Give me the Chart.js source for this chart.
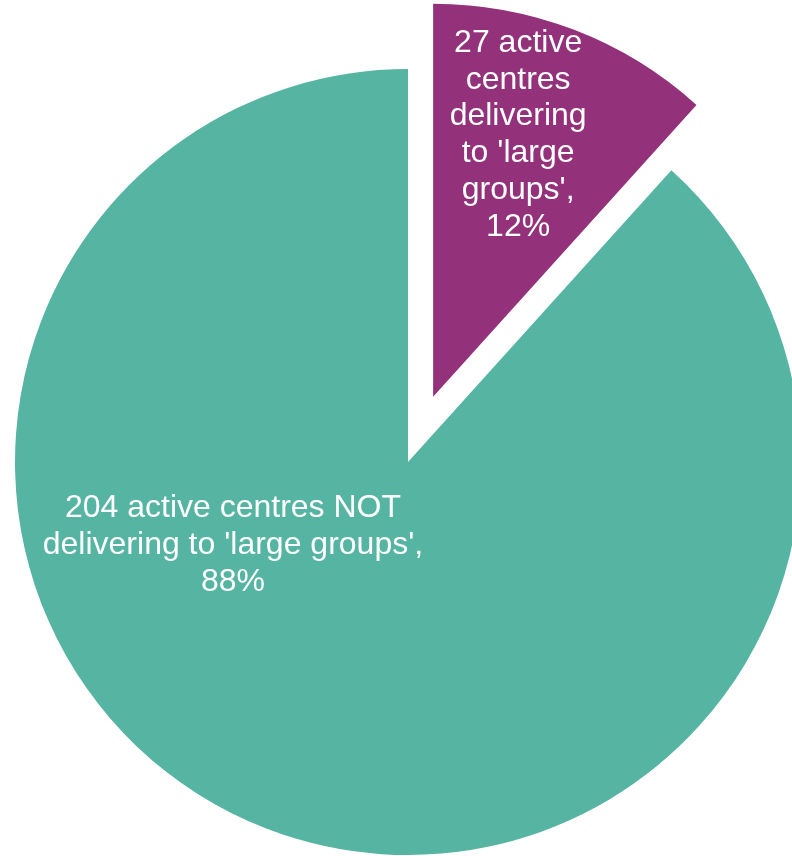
<!DOCTYPE html>
<html>
<head>
<meta charset="utf-8">
<script src="https://cdn.jsdelivr.net/npm/chart.js@4/dist/chart.umd.min.js"></script>
<style>
	html, body { margin: 0; padding: 0; background: #fff; }
	#wrap { width: 792px; height: 856px; overflow: hidden; position: relative; }
	#chart { position: absolute; left: 0; top: 0; }
</style>
</head>
<body>
<div id="wrap">
	<canvas id="chart" width="816" height="924"></canvas>
</div>
<script>
/* 파이 차트 - large groups */

const categories = [
	"active centres delivering to 'large groups'",
	"active centres NOT delivering to 'large groups'"
];
const counts = [27, 204];
const labelLines = [
	['27 active', 'centres', 'delivering', "to 'large", "groups',", '12%'],
	['204 active centres NOT', "delivering to 'large groups',", '88%']
];
const colors = ['rgb(147, 50, 122)', 'rgb(86, 180, 162)'];

//라벨 위치 (위에서 시계방향 각도, 반지름 비율)
const labelPos = [
	{ angle: 18, frac: 0.70 },
	{ angle: 244.6, frac: 0.493 }
];

//조각 밀어내기 (px)
const explodePx = [70, 0];

//조각 밀어내기 - chart.js offset은 반지름도 키워서 직접 이동시킴
const explodePlugin = {
	id: 'explode',
	afterUpdate(chart) {
		const meta = chart.getDatasetMeta(0);
		meta.data.forEach(function(arc, i) {
			if (!explodePx[i]) return;
			const orig = Chart.ArcElement.prototype.draw;
			arc.draw = function(ctx) {
				const half = (this.startAngle + this.endAngle) / 2;
				ctx.save();
				ctx.translate(Math.cos(half) * explodePx[i], Math.sin(half) * explodePx[i]);
				orig.call(this, ctx);
				ctx.restore();
			};
		});
	}
};

const labelPlugin = {
	id: 'sliceLabels',
	afterDatasetsDraw(chart) {
		const ctx = chart.ctx;
		const meta = chart.getDatasetMeta(0);
		ctx.save();
		ctx.fillStyle = '#ffffff';
		ctx.font = '32px "Liberation Sans", Arial, sans-serif';
		ctx.textAlign = 'center';
		ctx.textBaseline = 'middle';
		meta.data.forEach(function(arc, i) {
			const half = (arc.startAngle + arc.endAngle) / 2;
			const cx = arc.x + Math.cos(half) * explodePx[i];
			const cy = arc.y + Math.sin(half) * explodePx[i];
			const a = labelPos[i].angle * Math.PI / 180;
			const d = labelPos[i].frac * arc.outerRadius;
			const px = cx + Math.sin(a) * d;
			const py = cy - Math.cos(a) * d;
			const lines = labelLines[i];
			const lh = 36.8;
			const top = py - (lines.length - 1) * lh / 2;
			lines.forEach(function(t, j) {
				ctx.fillText(t, px, top + j * lh);
			});
		});
		ctx.restore();
	}
};

window.onload = function() {
	const data = {
		labels: categories,
		datasets: [{
			data: counts,
			backgroundColor: colors,
			borderWidth: 0,
			offset: 0,
			hoverOffset: 0
		}]
	};

	const config = {
		type: 'pie',
		data: data,
		options: {
			responsive: false,
			animation: false,
			radius: 393,
			layout: { padding: 0 },
			plugins: {
				legend: { display: false },
				tooltip: { enabled: false }
			}
		},
		plugins: [explodePlugin, labelPlugin]
	};

	new Chart(document.getElementById('chart'), config);
};
</script>
</body>
</html>
